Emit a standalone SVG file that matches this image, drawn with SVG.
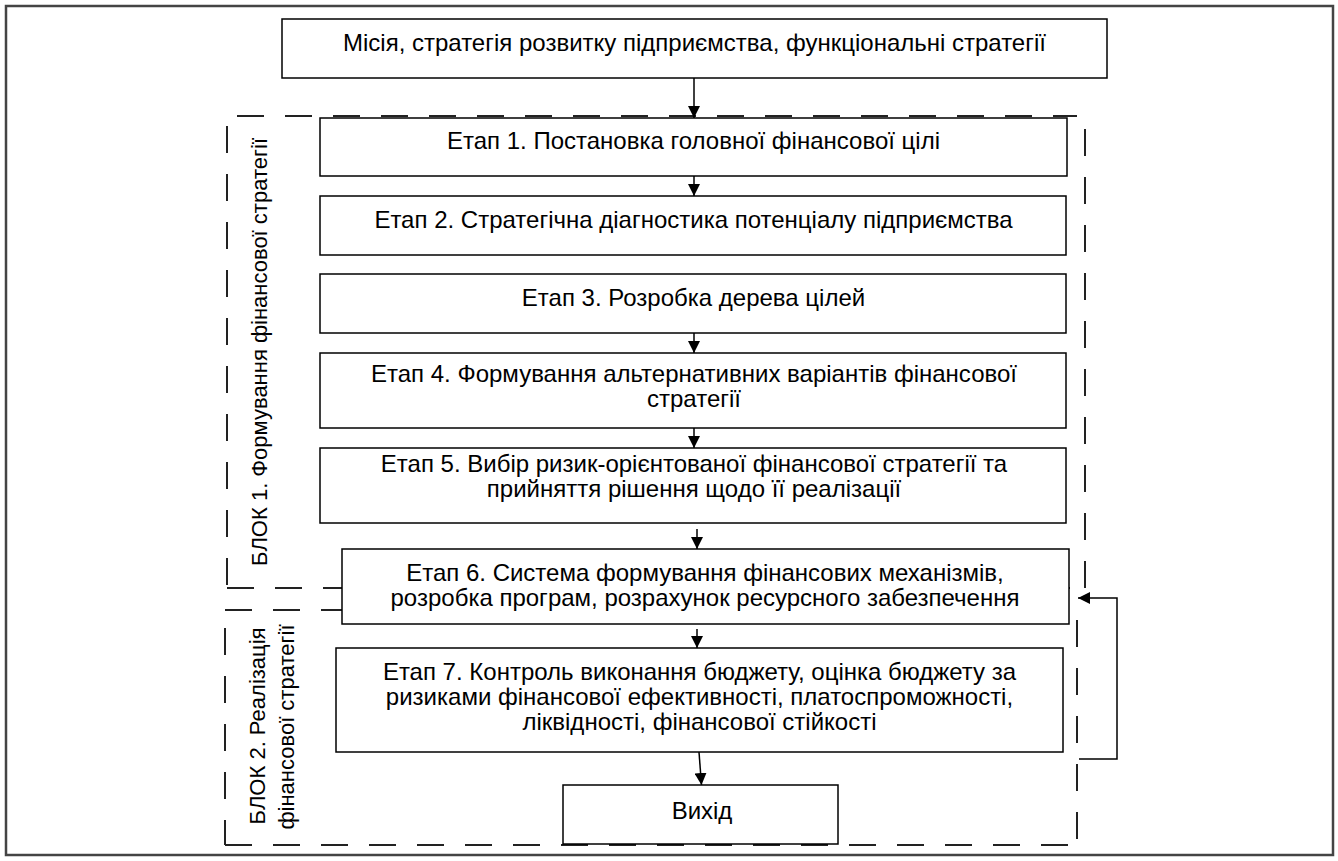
<svg xmlns="http://www.w3.org/2000/svg" width="1338" height="861" viewBox="0 0 1338 861">
<style>
.box{fill:#fff;stroke:#000;stroke-width:1.5}
.t{font-family:"Liberation Sans",Arial,sans-serif;font-size:24px;fill:#000;text-anchor:middle}
.v{font-family:"Liberation Sans",Arial,sans-serif;font-size:22px;fill:#000;text-anchor:middle}
.dash{fill:none;stroke:#222;stroke-width:2;stroke-dasharray:27 21}
.con{fill:none;stroke:#000;stroke-width:1.5}
</style>
<defs>
<marker id="ah" markerUnits="userSpaceOnUse" markerWidth="12" markerHeight="12" refX="12" refY="6" orient="auto">
<path d="M0,0 L12,6 L0,12 z" fill="#000"/>
</marker>
</defs>
<rect x="0" y="0" width="1338" height="861" fill="#fff"/>
<rect x="6" y="6" width="1327" height="849" fill="none" stroke="#444" stroke-width="2.5"/>

<g id="block1">
<path class="dash" d="M237,116 H1077"/>
<path class="dash" d="M1085,129 V588"/>
<path class="dash" d="M227,126 V588"/>
<path class="dash" d="M227,588 H1085"/>
<text class="v" transform="translate(267,352) rotate(-90)">БЛОК 1. Формування фінансової стратегії</text>
</g>
<g id="block2">
<path class="dash" d="M225,610 H1077"/>
<path class="dash" d="M225,628 V845"/>
<path class="dash" d="M225,845 H1077"/>
<path class="dash" d="M1077,620 V840"/>
<text class="v" transform="translate(265,726) rotate(-90)">БЛОК 2. Реалізація</text>
<text class="v" transform="translate(294,727) rotate(-90)">фінансової стратегії</text>
</g>

<g id="top">
<rect class="box" x="282" y="19" width="825" height="59"/>
<text class="t" x="694.5" y="51">Місія, стратегія розвитку підприємства, функціональні стратегії</text>
</g>
<g id="etap1">
<rect class="box" x="320" y="118" width="747" height="58"/>
<text class="t" x="693.5" y="149">Етап 1. Постановка головної фінансової цілі</text>
</g>
<g id="etap2">
<rect class="box" x="320" y="196" width="746" height="59"/>
<text class="t" x="693.5" y="228">Етап 2. Стратегічна діагностика потенціалу підприємства</text>
</g>
<g id="etap3">
<rect class="box" x="320" y="274" width="746" height="59"/>
<text class="t" x="693.5" y="306">Етап 3. Розробка дерева цілей</text>
</g>
<g id="etap4">
<rect class="box" x="320" y="353" width="746" height="75"/>
<text class="t" x="694" y="382">Етап 4. Формування альтернативних варіантів фінансової</text>
<text class="t" x="694" y="407">стратегії</text>
</g>
<g id="etap5">
<rect class="box" x="320" y="448" width="746" height="75"/>
<text class="t" x="694" y="472">Етап 5. Вибір ризик-орієнтованої фінансової стратегії та</text>
<text class="t" x="694" y="497">прийняття рішення щодо її реалізації</text>
</g>
<g id="etap6">
<rect class="box" x="342" y="549" width="727" height="75"/>
<text class="t" x="705" y="581">Етап 6. Система формування фінансових механізмів,</text>
<text class="t" x="705" y="606">розробка програм, розрахунок ресурсного забезпечення</text>
</g>
<g id="etap7">
<rect class="box" x="336" y="648" width="727" height="104"/>
<text class="t" x="699.5" y="680">Етап 7. Контроль виконання бюджету, оцінка бюджету за</text>
<text class="t" x="699.5" y="705">ризиками фінансової ефективності, платоспроможності,</text>
<text class="t" x="699.5" y="730">ліквідності, фінансової стійкості</text>
</g>
<g id="vyhid">
<rect class="box" x="563" y="785" width="275" height="59"/>
<text class="t" x="702" y="819">Вихід</text>
</g>

<g id="connectors">
<path class="con" d="M694,78 V118" marker-end="url(#ah)"/>
<path class="con" d="M694,176 V196" marker-end="url(#ah)"/>
<path class="con" d="M694,333 V353" marker-end="url(#ah)"/>
<path class="con" d="M694,428 V448" marker-end="url(#ah)"/>
<path class="con" d="M697,529 V549" marker-end="url(#ah)"/>
<path class="con" d="M697,629 V648" marker-end="url(#ah)"/>
<path class="con" d="M699,752 L701.5,785" marker-end="url(#ah)"/>
<path class="con" d="M1079,759 H1117 V598 H1078" marker-end="url(#ah)"/>
</g>
</svg>
